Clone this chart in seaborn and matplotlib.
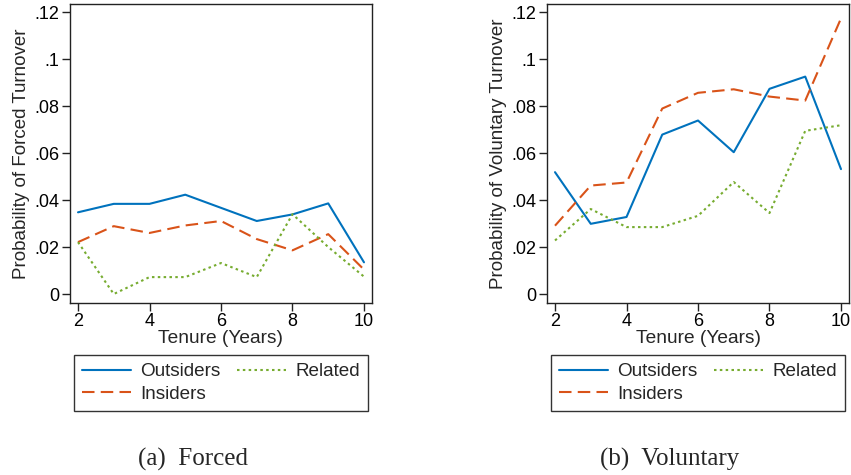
import numpy as np
import pandas as pd
import matplotlib
matplotlib.use("Agg")
import matplotlib.pyplot as plt
from matplotlib.lines import Line2D
import seaborn as sns

years = [2, 3, 4, 5, 6, 7, 8, 9, 10]

forced_outsiders = [0.0348, 0.0384, 0.0384, 0.0423, 0.0367, 0.0311, 0.0339, 0.0386, 0.0135]
forced_insiders = [0.0221, 0.0289, 0.0260, 0.0292, 0.0311, 0.0234, 0.0186, 0.0255, 0.0104]
forced_related = [0.0221, 0.0000, 0.0072, 0.0072, 0.0132, 0.0072, 0.0340, 0.0200, 0.0074]

vol_outsiders = [0.0519, 0.0299, 0.0328, 0.0679, 0.0739, 0.0604, 0.0874, 0.0926, 0.0532]
vol_insiders = [0.0291, 0.0462, 0.0475, 0.0790, 0.0857, 0.0872, 0.0841, 0.0824, 0.1174]
vol_related = [0.0228, 0.0362, 0.0285, 0.0285, 0.0333, 0.0477, 0.0345, 0.0695, 0.0719]

series_names = ["Outsiders", "Insiders", "Related"]
y_ticks = [0, 0.02, 0.04, 0.06, 0.08, 0.10, 0.12]
y_tick_labels = ["0", ".02", ".04", ".06", ".08", ".1", ".12"]
x_ticks = [2, 4, 6, 8, 10]

colors = {"Outsiders": "#0072BD", "Insiders": "#D95319", "Related": "#77AC30"}
styles = {"Outsiders": "-", "Insiders": (0, (6, 3)), "Related": (0, (1.2, 1.6))}

sns.set_style("ticks")
plt.rcParams["font.family"] = ["Liberation Sans", "DejaVu Sans"]

fig = plt.figure(figsize=(8.51, 4.75), dpi=100)
W, H = 851, 475

def make_ax(left_px):
    return fig.add_axes([left_px / W, 1 - 303 / H, 302 / W, 299 / H])

panels = [
    (70, "Probability of Forced Turnover",
     {"Outsiders": forced_outsiders, "Insiders": forced_insiders, "Related": forced_related},
     "(a)  Forced"),
    (547, "Probability of Voluntary Turnover",
     {"Outsiders": vol_outsiders, "Insiders": vol_insiders, "Related": vol_related},
     "(b)  Voluntary"),
]

for left_px, ylabel, data, caption in panels:
    ax = make_ax(left_px)
    for name in series_names:
        df = pd.DataFrame({"Tenure": years, "Prob": data[name]})
        sns.lineplot(data=df, x="Tenure", y="Prob", ax=ax, color=colors[name],
                     linestyle=styles[name], linewidth=1.5)
    ax.set_xlim(1.776, 10.224)
    ax.set_ylim(-0.00383, 0.12353)
    ax.set_xticks(x_ticks)
    ax.set_xticklabels([str(t) for t in x_ticks], fontsize=13)
    ax.set_yticks(y_ticks)
    ax.set_yticklabels(y_tick_labels, fontsize=13)
    ax.set_xlabel("Tenure (Years)", fontsize=13.8, labelpad=0)
    ax.set_ylabel(ylabel, fontsize=13.5, labelpad=3)
    for sp in ax.spines.values():
        sp.set_visible(True)
        sp.set_linewidth(1.0)
        sp.set_color("#222222")
    ax.tick_params(axis="both", direction="out", length=6, width=1.0, pad=1.5, colors="#222222")
    ax.tick_params(labelcolor="black")

    handles = [Line2D([0], [0], color=colors[n], linestyle=styles[n], linewidth=1.5)
               for n in series_names]
    leg = fig.legend(handles, series_names, ncol=2, loc="upper center",
                     bbox_to_anchor=((left_px + 151) / W, 1 - 355 / H),
                     fontsize=13.6, frameon=True, fancybox=False, edgecolor="black",
                     handlelength=2.6, handletextpad=0.5, columnspacing=0.9,
                     labelspacing=0.28, borderpad=0.42, borderaxespad=0)
    leg.get_frame().set_linewidth(1.0)
    fig.text((left_px + 123) / W, 1 - 459 / H, caption, ha="center", va="center",
             fontsize=18, family=["Liberation Serif", "DejaVu Serif"])

fig.savefig("out.png", dpi=100)
